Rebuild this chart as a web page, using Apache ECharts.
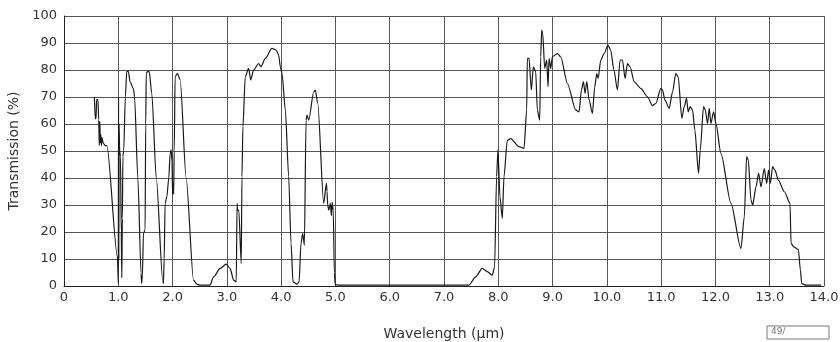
<!DOCTYPE html>
<html>
<head>
<meta charset="utf-8">
<script src="https://cdn.jsdelivr.net/npm/echarts@6/dist/echarts.min.js"></script>
<style>
  html, body { margin: 0; padding: 0; background: #fff; }
  #chart { width: 840px; height: 342px; }
</style>
</head>
<body>
<div id="chart"></div>
<script>
// wavelength (um) and transmission (%)
const wavelength = [
  0.56, 0.575, 0.59, 0.60, 0.625, 0.64, 0.65, 0.66, 0.67, 0.68, 0.69, 0.70, 0.72, 0.76, 0.79,
  0.984, 1.0, 1.005, 1.01, 1.015, 1.025, 1.04, 1.055, 1.065, 1.075, 1.085, 1.1, 1.13, 1.156, 1.185,
  1.217, 1.28, 1.30, 1.36, 1.42, 1.43, 1.445, 1.463, 1.494, 1.505, 1.515, 1.54, 1.57, 1.617, 1.70,
  1.82, 1.832, 1.845, 1.863, 1.894, 1.93, 1.955, 1.975, 1.99, 2.0, 2.01, 2.02, 2.03, 2.047, 2.09,
  2.14, 2.25, 2.386, 2.447, 2.5, 2.69, 2.755, 2.878, 2.989, 3.06, 3.124, 3.173, 3.188, 3.2, 3.22,
  3.265, 3.278, 3.296, 3.339, 3.40, 3.44, 3.493, 3.585, 3.628, 3.708, 3.831, 3.911, 3.954, 3.985, 4.016,
  4.077, 4.139, 4.182, 4.219, 4.293, 4.33, 4.366, 4.397, 4.428, 4.459, 4.477, 4.508, 4.60, 4.63, 4.674,
  4.784, 4.834, 4.845, 4.858, 4.877, 4.908, 4.925, 4.94, 4.96, 4.98, 4.995, 5.05, 7.459, 7.582, 7.705,
  7.797, 7.889, 7.932, 7.969, 7.994, 8.031, 8.074, 8.105, 8.166, 8.228, 8.381, 8.474, 8.523, 8.535, 8.566,
  8.609, 8.646, 8.689, 8.72, 8.763, 8.781, 8.80, 8.818, 8.855, 8.892, 8.917, 8.935, 8.966, 8.996, 9.089,
  9.15, 9.273, 9.427, 9.488, 9.531, 9.568, 9.599, 9.63, 9.673, 9.734, 9.777, 9.814, 9.839, 9.888, 9.95,
  10.02, 10.07, 10.13, 10.195, 10.244, 10.287, 10.336, 10.379, 10.428, 10.502, 10.625, 10.748, 10.84, 10.902, 10.994,
  11.025, 11.068, 11.148, 11.21, 11.27, 11.314, 11.381, 11.425, 11.468, 11.498, 11.535, 11.578, 11.621, 11.689, 11.72,
  11.781, 11.812, 11.855, 11.886, 11.917, 11.966, 12.009, 12.101, 12.286, 12.47, 12.532, 12.575, 12.606, 12.655, 12.685,
  12.747, 12.796, 12.839, 12.90, 12.944, 12.98, 13.011, 13.054, 13.097, 13.159, 13.27, 13.374, 13.393, 13.442, 13.528,
  13.565, 13.59, 13.67, 13.946
];
const transmission = [
  70, 62, 62, 69, 69, 61.5, 52, 61, 53, 56, 52, 55, 53, 52, 52,
  10.8, 1, 70, 10, 60, 50, 48, 20, 3, 25, 48, 50, 70, 79.5, 79.5,
  75.6, 73, 70, 40, 4.7, 1, 4, 19.5, 20.7, 60, 78.8, 79.4, 79.4, 71.3, 40,
  1.6, 1, 10, 30.6, 33, 40, 49, 50.4, 46, 34, 38, 34, 50, 77.5, 78.8,
  76.3, 40, 2.2, 0.7, 0.3, 0.3, 3.4, 6.5, 8.1, 6.5, 2.2, 1.5, 30.6, 28, 28,
  8.3, 40.5, 59, 77.5, 80.6, 76.3, 80, 82.4, 81.2, 84.3, 88, 87.4, 85.5, 81.2, 78.7,
  65.2, 40.5, 15.8, 1.5, 0.7, 1.5, 15.8, 19.5, 15.1, 61.4, 63.3, 61.4, 71.9, 72.6, 67.6,
  30.6, 38, 35, 30, 28.1, 30.6, 26, 31, 28, 5, 0.5, 0.3, 0.3, 3.4, 6.5,
  5.3, 4, 7.1, 40.5, 50.3, 33, 25, 40.5, 54, 54.6, 51.6, 51, 65.2, 84.3, 84.3,
  72.6, 81.2, 79.4, 65.2, 61.4, 84.9, 94.8, 93.6, 80.6, 83.7, 73.8, 84.3, 80.6, 84.9, 86.1,
  84.9, 75, 65.2, 64.5, 72.6, 75.7, 71.3, 75.7, 68.9, 63.9, 73.8, 78.7, 76.9, 83.7, 86.1,
  89.2, 87.4, 80, 72.6, 83.7, 83.7, 76.9, 82.4, 81.2, 75.7, 73.2, 70.1, 66.8, 67.6, 73.2,
  72.6, 68.9, 65.8, 71.9, 78.7, 77.5, 62.1, 66.4, 69.5, 64.5, 66.4, 65.2, 57.7, 41.7, 50.3,
  66.4, 65.2, 60.2, 65.8, 60.2, 64.5, 60.2, 49.1, 30.6, 13.9, 25.6, 47.9, 46.6, 31.8, 29.9,
  36.7, 41.7, 36.7, 43.5, 38, 42.9, 38, 44.2, 42.9, 39.2, 34.9, 30.6, 15.8, 14.5, 13.5,
  5.9, 0.9, 0.3, 0.3
];
const xTicks = [0, 1, 2, 3, 4, 5, 6, 7, 8, 9, 10, 11, 12, 13, 14];
const yTicks = [0, 10, 20, 30, 40, 50, 60, 70, 80, 90, 100];

const points = wavelength.map((w, i) => [w, transmission[i]]);

const chart = echarts.init(document.getElementById("chart"), null, { renderer: "canvas" });
const font = "DejaVu Sans";
const gridLine = { show: true, lineStyle: { color: "#555", width: 1 } };

chart.setOption({
  animation: false,
  grid: { left: 64, right: 16, top: 16, bottom: 56, containLabel: false, outerBoundsMode: "none" },
  xAxis: {
    type: "value",
    min: 0,
    max: 14,
    interval: 1,
    name: "Wavelength (μm)",
    nameLocation: "middle",
    nameGap: 41,
    nameTextStyle: { fontFamily: font, fontSize: 14, color: "#333" },
    axisLine: { lineStyle: { color: "#222", width: 1 } },
    axisTick: { show: false },
    splitLine: gridLine,
    axisLabel: {
      fontFamily: font,
      fontSize: 13,
      color: "#333",
      margin: 5,
      formatter: (v) => (xTicks.includes(v) ? (v === 0 ? "0" : v.toFixed(1)) : ""),
    },
  },
  yAxis: {
    type: "value",
    min: 0,
    max: 100,
    interval: 10,
    name: "Transmission (%)",
    nameLocation: "middle",
    nameGap: 42,
    nameTextStyle: { fontFamily: font, fontSize: 14, color: "#333" },
    axisLine: { show: true, lineStyle: { color: "#222", width: 1 } },
    axisTick: { show: false },
    splitLine: gridLine,
    axisLabel: {
      fontFamily: font,
      fontSize: 13,
      color: "#333",
      margin: 7,
      formatter: (v) => (yTicks.includes(v) ? String(v) : ""),
    },
  },
  series: [
    {
      type: "line",
      data: points,
      symbol: "none",
      smooth: 0.25,
      smoothMonotone: "x",
      lineStyle: { color: "#1a1a1a", width: 1.2 },
      z: 5,
    },
  ],
  graphic: [
    {
      type: "rect",
      shape: { x: 767, y: 326, width: 62, height: 13 },
      style: { fill: "none", stroke: "#777", lineWidth: 1 },
    },
    {
      type: "text",
      x: 771,
      y: 327,
      style: { text: "49/", font: "9px DejaVu Sans", fill: "#777" },
    },
  ],
});
</script>
</body>
</html>
